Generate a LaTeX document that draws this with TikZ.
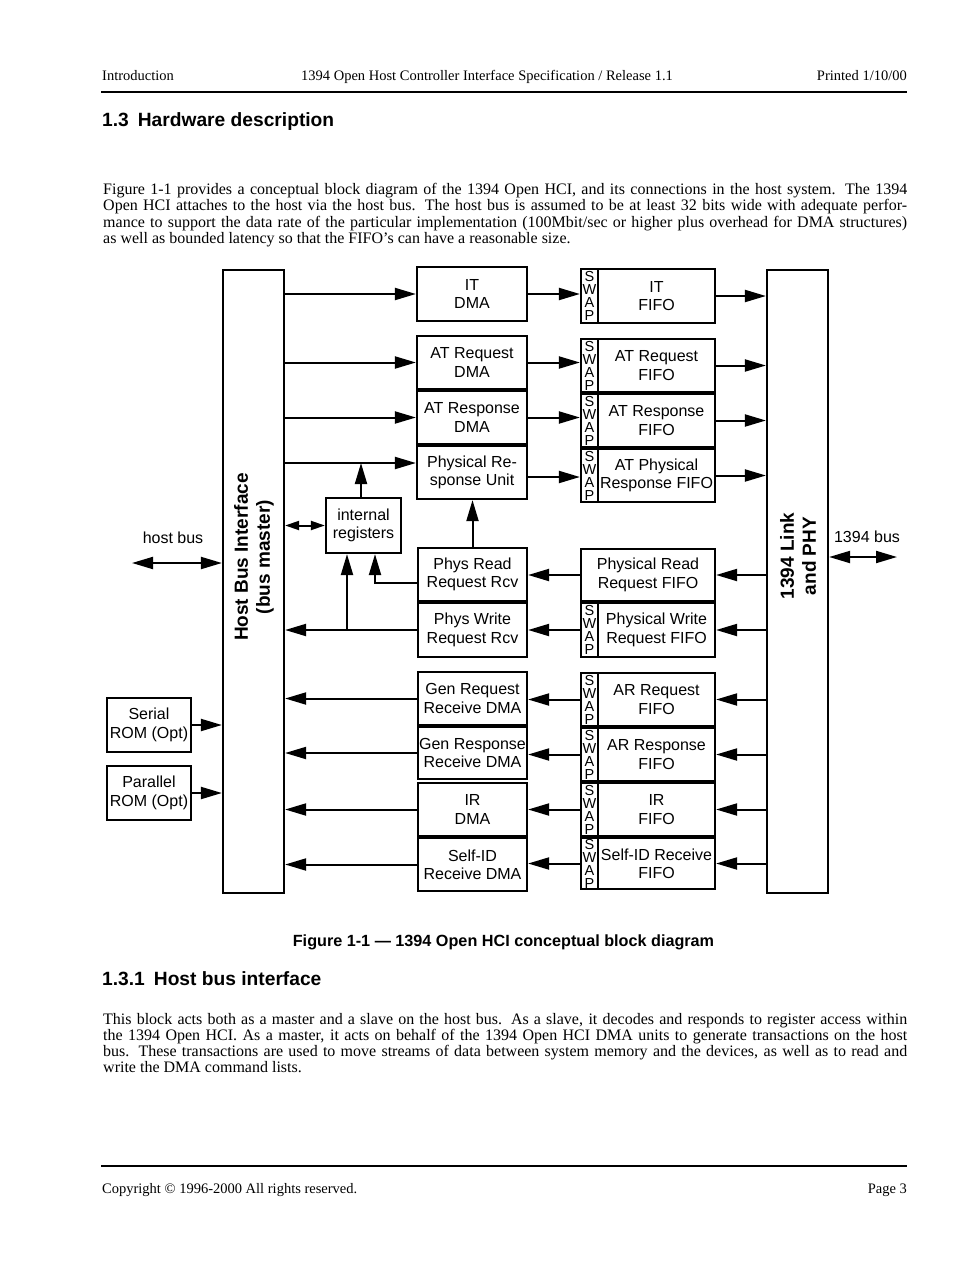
\documentclass[tikz,border=0pt]{standalone}
\usepackage{fontspec}
\setmainfont{Liberation Serif}
\newfontfamily\hsans{Liberation Sans}
\usetikzlibrary{arrows.meta}
\newcommand\dia{\hsans\fontsize{16}{18.3}\selectfont}
\newcommand\swapf{\hsans\fontsize{14.5}{13}\selectfont}
\newcommand\bigb{\hsans\bfseries\fontsize{19}{22}\selectfont}
\newcommand\bodyf{\fontsize{16}{16.3}\selectfont}
\newcommand\smallf{\fontsize{14.5}{17}\selectfont}
\newcommand\headf{\hsans\bfseries\fontsize{19.2}{22}\selectfont}
\newcommand\capf{\hsans\bfseries\fontsize{16.2}{19}\selectfont}
\newcommand\jline[1]{\makebox[804pt][s]{#1}}
\newcommand\bx[7][]{\node[box,#1,minimum width={(#5)-(#3)},minimum height={(#6)-(#4)}] (#2) at ({((#3)+(#5))/2},{((#4)+(#6))/2}) {#7};}
\tikzset{
  box/.style={draw,line width=2.2pt,inner sep=0pt,align=center,font=\dia},
  swapst/.style={font=\swapf},
  arr/.style={line width=2pt,-{Triangle[length=21pt,width=12pt]}},
  darr/.style={line width=2pt,{Triangle[length=21pt,width=12pt]}-{Triangle[length=21pt,width=12pt]}},
  sdarr/.style={line width=2pt,{Triangle[length=14pt,width=9pt]}-{Triangle[length=14pt,width=9pt]}},
  txt/.style={inner sep=0pt,anchor=base west},
}
\begin{document}
\begin{tikzpicture}[x=1pt,y=-1pt]
\useasboundingbox (0,0) rectangle (979,1265);
\fill[white] (0,0) rectangle (979,1265);

% ---------- header ----------
\node[txt,font=\smallf] (hl) at (102,81) {Introduction};
\node[txt,font=\smallf] (hc) at (301,81) {1394 Open Host Controller Interface Specification / Release 1.1};
\node[txt,font=\smallf,anchor=base east] (hr) at (907,81) {Printed 1/10/00};
\draw[line width=2.2pt] (101,92) -- (907,92);

\node[txt,font=\headf] (h13) at (102,127) {1.3\hspace{9pt}Hardware description};

\node[txt,font=\bodyf] (p1a) at (103,194.5) {\jline{Figure 1-1 provides a conceptual block diagram of the 1394 Open HCI, and its connections in the host system. The 1394}};
\node[txt,font=\bodyf] (p1b) at (103,210.8) {\jline{Open HCI attaches to the host via the host bus. The host bus is assumed to be at least 32 bits wide with adequate perfor-}};
\node[txt,font=\bodyf] (p1c) at (103,227.1) {\jline{mance to support the data rate of the particular implementation (100Mbit/sec or higher plus overhead for DMA structures)}};
\node[txt,font=\bodyf] (p1d) at (103,243.4) {as well as bounded latency so that the FIFO’s can have a reasonable size.};

% ---------- big blocks ----------
\bx{hbi}{223}{270}{284}{893}{}
\bx{link}{767}{270}{828}{893}{}
\node[rotate=90,align=center,font=\bigb,inner sep=0pt] (hbit) at (254,557) {Host Bus Interface\\(bus master)};
\node[rotate=90,align=center,font=\bigb,inner sep=0pt] (linkt) at (798,556) {1394 Link\\and PHY};

\bx{srom}{107}{698}{191}{752}{Serial\\ROM (Opt)}
\bx{prom}{107}{766}{191}{820}{Parallel\\ROM (Opt)}
\bx{regs}{326}{498}{401}{553}{internal\\registers}

% ---------- DMA column ----------
\bx{itdma}{417}{267}{527}{321}{IT\\DMA}
\bx{atreqdma}{417}{336}{527}{389}{AT Request\\DMA}
\bx{atrespdma}{417}{391}{527}{444}{AT Response\\DMA}
\bx{physresp}{417}{446}{527}{499}{Physical Re-\\sponse Unit}
\bx{physread}{418}{548}{527}{601}{Phys Read\\Request Rcv}
\bx{physwrite}{418}{603}{527}{657}{Phys Write\\Request Rcv}
\bx{genreq}{418}{672}{527}{725}{Gen Request\\Receive DMA}
\bx{genresp}{418}{727}{527}{779}{Gen Response\\Receive DMA}
\bx{irdma}{418}{783}{527}{836}{IR\\DMA}
\bx{selfdma}{418}{838}{527}{891}{Self-ID\\Receive DMA}

% ---------- FIFO column ----------
\bx[swapst]{itswap}{581}{269}{598}{323}{S\\W\\A\\P}
\bx{itfifo}{598}{269}{715}{323}{IT\\FIFO}
\bx[swapst]{atreqswap}{581}{339}{598}{392}{S\\W\\A\\P}
\bx{atreqfifo}{598}{339}{715}{392}{AT Request\\FIFO}
\bx[swapst]{atrespswap}{581}{394}{598}{447}{S\\W\\A\\P}
\bx{atrespfifo}{598}{394}{715}{447}{AT Response\\FIFO}
\bx[swapst]{atphyswap}{581}{449}{598}{502}{S\\W\\A\\P}
\bx{atphyfifo}{598}{449}{715}{502}{AT Physical\\Response FIFO}
\bx{prfifo}{581}{549}{715}{601}{Physical Read\\Request FIFO}
\bx[swapst]{pwswap}{581}{603}{598}{657}{S\\W\\A\\P}
\bx{pwfifo}{598}{603}{715}{657}{Physical Write\\Request FIFO}
\bx[swapst]{arreqswap}{581}{673}{598}{726}{S\\W\\A\\P}
\bx{arreqfifo}{598}{673}{715}{726}{AR Request\\FIFO}
\bx[swapst]{arrespswap}{581}{728}{598}{781}{S\\W\\A\\P}
\bx{arrespfifo}{598}{728}{715}{781}{AR Response\\FIFO}
\bx[swapst]{irswap}{581}{783}{598}{836}{S\\W\\A\\P}
\bx{irfifo}{598}{783}{715}{836}{IR\\FIFO}
\bx[swapst]{selfswap}{581}{838}{598}{889}{S\\W\\A\\P}
\bx{selffifo}{598}{838}{715}{889}{Self-ID Receive\\FIFO}

% ---------- labels ----------
\node[font=\dia,inner sep=0pt] (hbl) at (173,538) {host bus};
\node[font=\dia,inner sep=0pt] (bl1394) at (867,537) {1394 bus};
\coordinate (hbend) at (132,563);
\coordinate (b1394end) at (897,557);

% ---------- transmit arrows ----------
\draw[arr] (hbi.east |- itdma.west) -- (itdma.west);
\draw[arr] (hbi.east |- atreqdma.west) -- (atreqdma.west);
\draw[arr] (hbi.east |- atrespdma.west) -- (atrespdma.west);
\coordinate (prin) at ([yshift=9.5pt]physresp.west);
\draw[arr] (hbi.east |- prin) -- (prin);

\draw[arr] (itdma.east) -- (itdma.east -| itswap.west);
\draw[arr] (atreqdma.east) -- (atreqdma.east -| atreqswap.west);
\draw[arr] (atrespdma.east) -- (atrespdma.east -| atrespswap.west);
\draw[arr] ([yshift=-4.5pt]physresp.east) -- ([yshift=-4.5pt]physresp.east -| atphyswap.west);

\draw[arr] (itfifo.east) -- (itfifo.east -| link.west);
\draw[arr] (atreqfifo.east) -- (atreqfifo.east -| link.west);
\draw[arr] (atrespfifo.east) -- (atrespfifo.east -| link.west);
\draw[arr] (atphyfifo.east) -- (atphyfifo.east -| link.west);

% ---------- internal registers / physical ----------
\draw[arr] ([xshift=-2.5pt]regs.north) -- ([xshift=-2.5pt]regs.north |- prin);
\draw[sdarr] (hbi.east |- regs.west) -- (regs.west);
\draw[arr] (physread.north) -- (physread.north |- physresp.south);
\draw[arr] ([yshift=-8.5pt]physread.west) -| ([xshift=11.5pt]regs.south);
\draw[arr] (physwrite.west) -- (physwrite.west -| hbi.east);
\draw[arr] ([xshift=-16.5pt]regs.south |- physwrite.west) -- ([xshift=-16.5pt]regs.south);

\draw[arr] (prfifo.east -| link.west) -- (prfifo.east);
\draw[arr] (prfifo.west) -- (prfifo.west -| physread.east);
\draw[arr] (pwfifo.east -| link.west) -- (pwfifo.east);
\draw[arr] (pwswap.west) -- (pwswap.west -| physwrite.east);

% ---------- receive arrows ----------
\draw[arr] (arreqfifo.east -| link.west) -- (arreqfifo.east);
\draw[arr] (arrespfifo.east -| link.west) -- (arrespfifo.east);
\draw[arr] (irfifo.east -| link.west) -- (irfifo.east);
\draw[arr] (selffifo.east -| link.west) -- (selffifo.east);

\draw[arr] (arreqswap.west) -- (arreqswap.west -| genreq.east);
\draw[arr] (arrespswap.west) -- (arrespswap.west -| genresp.east);
\draw[arr] (irswap.west) -- (irswap.west -| irdma.east);
\draw[arr] (selfswap.west) -- (selfswap.west -| selfdma.east);

\draw[arr] (genreq.west) -- (genreq.west -| hbi.east);
\draw[arr] (genresp.west) -- (genresp.west -| hbi.east);
\draw[arr] (irdma.west) -- (irdma.west -| hbi.east);
\draw[arr] (selfdma.west) -- (selfdma.west -| hbi.east);

% ---------- external ----------
\draw[darr] (hbend) -- (hbend -| hbi.west);
\draw[darr] (b1394end -| link.east) -- (b1394end);
\draw[arr] (srom.east) -- (srom.east -| hbi.west);
\draw[arr] (prom.east) -- (prom.east -| hbi.west);

% ---------- caption and following text ----------
\node[font=\capf,inner sep=0pt,anchor=base] (cap) at (503.5,946) {Figure 1-1 — 1394 Open HCI conceptual block diagram};
\node[txt,font=\headf] (h131) at (102,985) {1.3.1\hspace{9pt}Host bus interface};

\node[txt,font=\bodyf] (p2a) at (103,1024) {\jline{This block acts both as a master and a slave on the host bus. As a slave, it decodes and responds to register access within}};
\node[txt,font=\bodyf] (p2b) at (103,1040.3) {\jline{the 1394 Open HCI. As a master, it acts on behalf of the 1394 Open HCI DMA units to generate transactions on the host}};
\node[txt,font=\bodyf] (p2c) at (103,1056.6) {\jline{bus. These transactions are used to move streams of data between system memory and the devices, as well as to read and}};
\node[txt,font=\bodyf] (p2d) at (103,1072.9) {write the DMA command lists.};

% ---------- footer ----------
\draw[line width=2.2pt] (101,1166) -- (907,1166);
\node[txt,font=\smallf] (fl) at (102,1193) {Copyright © 1996-2000 All rights reserved.};
\node[txt,font=\smallf,anchor=base east] (fr) at (907,1193) {Page 3};
\end{tikzpicture}
\end{document}
